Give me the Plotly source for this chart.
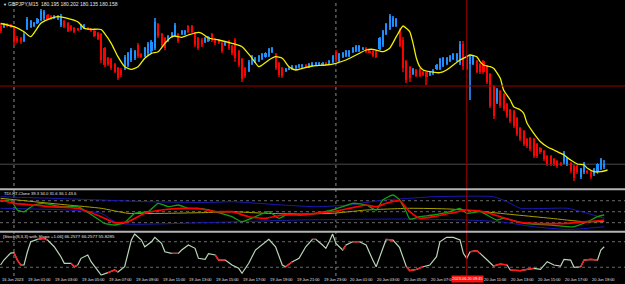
import plotly.graph_objects as go

# ---------------- data ----------------
bar_index = list(range(-4, 177))   # M15 bars, 0 = 19 Jun 00:00

open_ = [181.54,181.53,181.56,181.55,181.53,181.42,181.42,181.39,181.51,181.53,
         181.54,181.57,181.60,181.62,181.65,181.64,181.62,181.61,181.55,181.59,
         181.57,181.54,181.52,181.51,181.51,181.52,181.52,181.51,181.49,181.47,
         181.46,181.32,181.22,181.21,181.16,181.12,181.10,181.11,181.15,181.20,
         181.22,181.35,181.26,181.24,181.27,181.29,181.32,181.56,181.46,181.42,
         181.39,181.43,181.45,181.46,181.46,181.46,181.54,181.54,181.47,181.42,
         181.40,181.38,181.39,181.46,181.41,181.40,181.37,181.35,181.39,181.34,
         181.40,181.29,181.21,181.12,181.09,181.16,181.18,181.19,181.21,181.23,
         181.24,181.28,181.26,181.17,181.12,181.09,181.105,181.11,181.12,181.13,
         181.13,181.15,181.13,181.14,181.15,181.15,181.15,181.175,181.16,181.18,
         181.28,181.19,181.23,181.24,181.24,181.28,181.29,181.29,181.305,181.32,
         181.295,181.29,181.29,181.31,181.35,181.46,181.51,181.54,181.54,181.50,
         181.40,181.19,181.13,181.06,181.10,181.11,181.08,181.08,181.05,181.06,
         181.11,181.11,181.14,181.16,181.19,181.21,181.19,181.17,181.36,181.24,
         181.16,181.16,181.19,181.16,181.19,181.14,181.06,180.94,180.78,180.89,
         180.86,180.76,180.70,180.69,180.62,180.52,180.49,180.41,180.42,180.41,
         180.36,180.32,180.29,180.24,180.24,180.21,180.19,180.175,180.18,180.16,
         180.17,180.14,180.14,180.03,180.08,180.095,180.08,180.06,180.08,180.11,
         180.13]
high = [181.56,181.57,181.57,181.56,181.54,181.44,181.43,181.48,181.63,181.60,
        181.58,181.62,181.71,181.70,181.66,181.65,181.65,181.65,181.66,181.60,
        181.58,181.55,181.53,181.52,181.56,181.56,181.53,181.52,181.50,181.48,
        181.47,181.33,181.23,181.22,181.17,181.13,181.12,181.25,181.28,181.32,
        181.30,181.37,181.27,181.33,181.38,181.40,181.62,181.57,181.47,181.43,
        181.45,181.48,181.57,181.47,181.50,181.50,181.55,181.55,181.48,181.43,
        181.42,181.43,181.44,181.47,181.42,181.41,181.38,181.38,181.40,181.35,
        181.42,181.30,181.22,181.13,181.20,181.25,181.23,181.25,181.27,181.28,
        181.32,181.33,181.27,181.18,181.13,181.12,181.13,181.15,181.15,181.16,
        181.16,181.16,181.17,181.18,181.18,181.18,181.18,181.18,181.20,181.25,
        181.30,181.27,181.28,181.30,181.30,181.33,181.35,181.35,181.33,181.33,
        181.30,181.30,181.30,181.43,181.50,181.57,181.66,181.64,181.62,181.52,
        181.43,181.20,181.14,181.12,181.11,181.12,181.09,181.09,181.09,181.11,
        181.16,181.22,181.23,181.23,181.25,181.27,181.27,181.39,181.39,181.25,
        181.25,181.25,181.20,181.17,181.20,181.15,181.07,180.95,180.92,180.90,
        180.87,180.77,180.71,180.70,180.63,180.53,180.50,180.42,180.43,180.42,
        180.37,180.33,180.30,180.25,180.25,180.22,180.20,180.18,180.29,180.23,
        180.18,180.15,180.15,180.12,180.18,180.10,180.09,180.12,180.17,180.22,
        180.20]
low = [181.47,181.52,181.53,181.52,181.35,181.37,181.36,181.38,181.50,181.52,
       181.53,181.56,181.59,181.60,181.60,181.60,181.61,181.60,181.53,181.52,
       181.48,181.49,181.47,181.49,181.50,181.51,181.50,181.48,181.43,181.40,
       181.17,181.13,181.14,181.10,181.07,181.00,181.03,181.10,181.13,181.18,
       181.20,181.22,181.22,181.23,181.25,181.27,181.30,181.42,181.33,181.30,
       181.38,181.42,181.43,181.37,181.45,181.45,181.47,181.47,181.33,181.30,
       181.33,181.37,181.38,181.38,181.35,181.36,181.27,181.34,181.30,181.25,
       181.18,181.13,180.98,181.02,181.08,181.15,181.17,181.18,181.20,181.22,
       181.23,181.27,181.10,181.03,181.02,181.08,181.10,181.10,181.10,181.12,
       181.12,181.12,181.12,181.13,181.14,181.14,181.14,181.15,181.15,181.17,
       181.18,181.18,181.22,181.23,181.23,181.27,181.28,181.28,181.30,181.27,
       181.27,181.23,181.22,181.30,181.33,181.45,181.50,181.53,181.53,181.33,
       181.08,180.97,180.98,181.05,181.03,181.03,181.04,180.95,181.04,181.05,
       181.10,181.10,181.13,181.15,181.18,181.20,181.18,181.15,181.10,181.10,
       180.80,181.15,181.07,181.06,181.06,180.96,180.72,180.61,180.76,180.72,
       180.69,180.62,180.57,180.52,180.44,180.39,180.34,180.32,180.29,180.22,
       180.22,180.26,180.19,180.14,180.14,180.14,180.12,180.14,180.16,180.14,
       180.07,179.99,180.06,180.01,180.06,180.06,180.01,180.04,180.06,180.10,
       180.11]
close = [181.49,181.56,181.54,181.53,181.38,181.39,181.38,181.46,181.61,181.59,
         181.57,181.61,181.69,181.68,181.61,181.62,181.64,181.64,181.64,181.53,
         181.49,181.50,181.48,181.50,181.55,181.55,181.505,181.49,181.44,181.41,
         181.20,181.15,181.16,181.12,181.08,181.02,181.05,181.23,181.27,181.30,
         181.29,181.24,181.23,181.32,181.36,181.38,181.58,181.44,181.35,181.32,
         181.44,181.47,181.55,181.39,181.49,181.49,181.48,181.48,181.35,181.32,
         181.35,181.42,181.43,181.40,181.37,181.37,181.29,181.37,181.32,181.27,
         181.22,181.15,181.01,181.04,181.18,181.24,181.22,181.24,181.26,181.27,
         181.31,181.32,181.12,181.05,181.04,181.11,181.12,181.14,181.14,181.15,
         181.15,181.13,181.16,181.17,181.17,181.17,181.17,181.155,181.19,181.24,
         181.20,181.26,181.27,181.29,181.29,181.32,181.34,181.34,181.325,181.28,
         181.275,181.24,181.23,181.42,181.49,181.56,181.64,181.62,181.61,181.34,
         181.12,181.00,181.02,181.11,181.04,181.04,181.05,181.03,181.08,181.10,
         181.15,181.21,181.22,181.22,181.24,181.26,181.26,181.36,181.14,181.11,
         181.24,181.24,181.08,181.08,181.08,180.98,180.74,180.64,180.91,180.74,
         180.71,180.64,180.59,180.54,180.46,180.41,180.36,180.34,180.31,180.24,
         180.24,180.28,180.21,180.16,180.16,180.16,180.14,180.155,180.27,180.22,
         180.09,180.02,180.08,180.11,180.17,180.075,180.03,180.11,180.16,180.21,
         180.158]

ma_index = [-4,0,3,5,8,11,13,16,19,21,23,26,27,29,31,33,35,37,39,41,43,45,47,48,50,
            52,55,56,58,61,65,68,71,73,74,76,78,80,82,84,86,89,93,96,99,102,105,107,
            110,112,114,116,117,118,119,120,121,122,124,127,129,131,133,135,136,138,
            139,140,142,143,145,146,148,149,151,152,153,155,157,159,161,164,166,168,
            170,171,173,175,177]
ma_value = [181.565,181.533,181.483,181.433,181.567,181.617,181.633,181.617,181.583,
            181.517,181.507,181.505,181.467,181.367,181.233,181.133,181.107,181.133,
            181.217,181.267,181.283,181.367,181.433,181.44,181.427,181.45,181.477,
            181.467,181.42,181.40,181.367,181.333,181.217,181.133,181.15,181.20,
            181.233,181.217,181.133,181.10,181.117,181.14,181.15,181.167,181.20,
            181.25,181.30,181.307,181.283,181.317,181.433,181.54,181.517,181.483,
            181.367,181.217,181.133,181.10,181.083,181.073,181.10,181.15,181.20,
            181.233,181.25,181.233,181.183,181.15,181.133,181.117,181.017,180.90,
            180.80,180.733,180.70,180.667,180.567,180.467,180.383,180.333,180.30,
            180.25,180.20,180.16,180.15,180.117,180.083,180.083,180.10]

bid_price = 180.158
crosshair_price = 180.94
crosshair_bar = 135
crosshair_label = "2023.06.20 09:45"
day_separators = [0, 96]

# TDI window
tdi_upper_index = [-4,11,26,40,58,65,80,90,100,110,118,125,143,147,151,165,171,176]
tdi_upper = [74.6,72.0,69.2,66.4,65.1,66.4,61.0,58.2,61.0,69.2,72.0,74.6,74.6,66.4,55.6,55.6,47.4,39.2]
tdi_lower_index = [-4,16,26,31,58,85,115,135,145,155,165,171,176]
tdi_lower = [55.6,52.8,47.4,31.0,32.3,36.4,38.0,36.4,33.6,25.4,20.8,22.8,25.4]
tdi_mid_index = [-4,6,16,26,34,46,58,65,75,85,95,100,105,118,130,140,150,160,170,176]
tdi_mid = [72.0,66.4,61.0,55.6,47.4,47.4,48.7,50,47.4,46.2,47.4,50,52.8,55.6,54.4,50,44.6,39.2,33.6,33.6]
tdi_price_index = [-4,-1,1,3,6,9,14,19,24,27,30,33,36,40,43,46,49,52,55,58,65,68,72,76,79,82,
                   85,90,95,98,101,105,108,110,113,115,117,118,121,125,130,133,135,139,144,
                   146,152,160,167,171,174,176]
tdi_price = [66.4,69.2,52.8,50,61.0,63.8,58.2,58.2,41.8,31.0,28.2,32.0,47.4,50,63.8,58.2,61.0,
             55.6,55.6,52.8,41.8,33.6,41.8,50,39.2,47.4,44.6,47.4,52.8,58.2,63.8,61.0,52.8,
             69.2,77.4,69.2,49.5,38.0,41.8,44.6,50,55.6,47.4,50,36.4,39.2,31.0,28.2,25.4,
             33.6,41.8,44.6]
tdi_signal_index = [-4,0,6,11,19,26,30,34,39,44,50,56,60,65,70,75,80,85,90,95,100,105,108,111,
                    115,118,121,125,130,135,140,145,150,155,165,171,176]
tdi_signal = [69.2,63.8,61.0,58.2,55.6,41.8,32.0,33.6,47.4,52.8,55.6,54.4,50,50,41.8,39.2,44.6,
              44.6,47.4,50,55.6,61.0,58.2,63.8,67.9,50,39.2,41.8,47.4,52.8,50,41.8,33.6,31.0,
              31.0,33.6,36.4]
tdi_levels = [68, 50, 32]

# Stochastic window
stoch_index = [-4,-3,-1,0,1,2,3,4,5,7,9,10,12,14,15,17,18,19,20,22,23,25,26,28,30,31,33,34,35,
               36,38,39,41,42,44,45,47,49,50,52,54,55,57,58,60,61,63,65,67,68,70,72,74,76,78,
               80,81,83,85,87,89,90,92,93,94,95,96,98,99,101,103,105,107,108,110,111,113,115,
               117,118,120,122,124,126,127,129,131,133,134,135,136,138,139,141,143,145,147,
               148,151,153,155,157,159,161,163,164,166,167,169,170,172,174,175,176]
stoch_main = [25.3,37.0,53.4,54.1,37.0,25.3,25.3,56.5,79.9,85.6,87.9,83.9,68.2,44.8,29.3,29.3,
              21.3,25.3,41.0,48.8,33.1,13.6,1.9,7.3,13.6,8.9,21.3,52.7,83.9,98.0,83.9,68.2,
              79.9,90.2,76.2,56.5,52.7,52.7,60.5,72.2,64.5,41.0,38.7,52.0,48.8,37.0,37.0,25.3,
              17.6,5.9,29.3,60.5,72.2,85.6,68.2,25.3,21.3,33.1,41.0,68.2,85.6,85.6,72.2,64.5,
              79.9,98.0,76.2,60.5,72.2,79.9,79.9,72.2,37.0,21.3,64.5,85.6,83.9,66.0,21.3,12.0,
              15.2,21.3,25.3,44.8,79.9,90.2,90.2,83.9,52.7,41.0,56.5,58.9,52.7,37.0,23.0,27.7,
              25.3,13.6,12.0,15.2,17.6,15.2,33.1,25.3,23.0,38.7,37.0,19.9,21.3,37.0,38.7,37.0,
              60.5,68.2]
stoch_flat_ranges = [(0,2),(7,10),(17,19),(28,31),(46,49),(59,63),(81,83),(89,90),(97,99),
                     (101,103),(111,113),(117,122),(136,139),(143,147),(148,155),(169,174)]
stoch_levels = [80, 20]

tick_index = [-4,4,12,20,28,36,44,52,60,68,76,84,92,100,108,116,124,140,148,156,164,172]
tick_text = ["16 Jun 2023","19 Jun 01:00","19 Jun 03:00","19 Jun 05:00","19 Jun 07:00",
             "19 Jun 09:00","19 Jun 11:00","19 Jun 13:00","19 Jun 15:00","19 Jun 17:00",
             "19 Jun 19:00","19 Jun 21:00","19 Jun 23:00","20 Jun 01:00","20 Jun 03:00",
             "20 Jun 05:00","20 Jun 07:00","20 Jun 11:00","20 Jun 13:00","20 Jun 15:00",
             "20 Jun 17:00","20 Jun 19:00"]

title_text = "GBPJPY,M15  180.195 180.202 180.135 180.158"
tdi_text = "TDI-RT-Clone 39.3 34.0 31.6 36.1 43.6"
stoch_text = "[Stoch(8,3,3) with Slope +1.06] 66.2577 66.2577 55.8285"

# ---------------- figure ----------------
W, H = 625, 284
def py(px):
    return (H - px) / H

FONT = "Liberation Sans"
fig = go.Figure()

bull = [c >= o for o, c in zip(open_, close)]
def pick(seq, flag):
    return [v for v, f in zip(seq, bull) if f == flag]

for flag, body_col, wick_col in [(True, "#1e8fff", "#1f74d0"), (False, "#ff0000", "#b80000")]:
    xs = pick(bar_index, flag)
    o, h, l, c = pick(open_, flag), pick(high, flag), pick(low, flag), pick(close, flag)
    fig.add_bar(x=xs, y=[a - b for a, b in zip(h, l)], base=l, width=0.3,
                marker=dict(color=wick_col, line_width=0), yaxis="y", hoverinfo="skip")
    fig.add_bar(x=xs, y=[max(abs(b - a), 0.012) for a, b in zip(o, c)],
                base=[min(a, b) for a, b in zip(o, c)], width=0.62,
                marker=dict(color=body_col, line_width=0), yaxis="y", hoverinfo="skip")

fig.add_scatter(x=ma_index, y=ma_value, mode="lines", yaxis="y",
                line=dict(color="#f0f000", width=1.3, shape="spline", smoothing=0.6))

# TDI
for xs, ys, col, wd in [(tdi_upper_index, tdi_upper, "#1a1ab4", 1.0),
                        (tdi_lower_index, tdi_lower, "#1a1ab4", 1.0),
                        (tdi_mid_index, tdi_mid, "#aaa200", 1.0),
                        (tdi_price_index, tdi_price, "#12a012", 1.3),
                        (tdi_signal_index, tdi_signal, "#ff0000", 1.7)]:
    fig.add_scatter(x=xs, y=ys, mode="lines", yaxis="y2",
                    line=dict(color=col, width=wd, shape="spline", smoothing=0.5))

# Stochastic
fig.add_scatter(x=stoch_index, y=stoch_main, mode="lines", yaxis="y3",
                line=dict(color="#b9d6b9", width=1.2))
for a, b in stoch_flat_ranges:
    seg = [(x, v) for x, v in zip(stoch_index, stoch_main) if a <= x <= b]
    if len(seg) >= 2:
        fig.add_scatter(x=[s[0] for s in seg], y=[s[1] for s in seg], mode="lines",
                        yaxis="y3", line=dict(color="#ff1a1a", width=1.4))

shapes = []
for lv in tdi_levels:
    shapes.append(dict(type="line", xref="paper", x0=0, x1=1, yref="y2", y0=lv, y1=lv,
                       line=dict(color="#6a6a6a", width=1, dash="dot"), layer="below"))
for lv in stoch_levels:
    shapes.append(dict(type="line", xref="paper", x0=0, x1=1, yref="y3", y0=lv, y1=lv,
                       line=dict(color="#6a6a6a", width=1, dash="dot"), layer="below"))
shapes.append(dict(type="line", xref="paper", x0=0, x1=1, yref="y", y0=bid_price, y1=bid_price,
                   line=dict(color="#4a4a4a", width=1), layer="below"))
for d in day_separators:
    shapes.append(dict(type="line", xref="x", x0=d, x1=d, yref="paper", y0=py(276), y1=1,
                       line=dict(color="#8a8a8a", width=1, dash="dot"), layer="below"))
shapes.append(dict(type="line", xref="paper", x0=0, x1=1, yref="y", y0=crosshair_price,
                   y1=crosshair_price, line=dict(color="#9a0000", width=1)))
shapes.append(dict(type="line", xref="x", x0=crosshair_bar, x1=crosshair_bar, yref="paper",
                   y0=py(276), y1=1, line=dict(color="#9a0000", width=1)))
for ypx in [189.2, 231.7]:
    shapes.append(dict(type="line", xref="paper", x0=0, x1=1, yref="paper", y0=py(ypx), y1=py(ypx),
                       line=dict(color="#b4b4b4", width=2)))

ann = []
txtcol = "#e6e6e6"
ann.append(dict(text="▼", x=0.002, y=py(4.2), xref="paper", yref="paper", xanchor="left",
                yanchor="middle", showarrow=False, font=dict(family=FONT, size=4, color=txtcol)))
ann.append(dict(text=title_text, x=7 / W, y=py(4.2), xref="paper", yref="paper", xanchor="left",
                yanchor="middle", showarrow=False, borderpad=0,
                font=dict(family=FONT, size=5, color=txtcol)))
ann.append(dict(text=tdi_text, x=3 / W, y=py(193.6), xref="paper", yref="paper", xanchor="left",
                yanchor="middle", showarrow=False, borderpad=0,
                font=dict(family=FONT, size=4.2, color=txtcol)))
ann.append(dict(text=stoch_text, x=2 / W, y=py(236.3), xref="paper", yref="paper", xanchor="left",
                yanchor="middle", showarrow=False, borderpad=0,
                font=dict(family=FONT, size=4.4, color=txtcol)))
for t, s in zip(tick_index, tick_text):
    ann.append(dict(text=s, x=t, y=py(279.2), xref="x", yref="paper", xanchor="left",
                    yanchor="middle", showarrow=False, borderpad=0,
                    font=dict(family=FONT, size=3.9, color=txtcol)))
ann.append(dict(text=crosshair_label, x=crosshair_bar, y=py(279.2), xref="x", yref="paper",
                xanchor="center", yanchor="middle", showarrow=False, borderpad=0.3, xshift=1,
                bgcolor="#ff1010", font=dict(family=FONT, size=3.9, color="#ffffff")))

fig.update_layout(
    width=W, height=H, autosize=False, margin=dict(l=0, r=0, t=0, b=0, pad=0),
    paper_bgcolor="#000000", plot_bgcolor="#000000", showlegend=False,
    barmode="overlay", bargap=0,
    xaxis=dict(domain=[0, 1], range=[-4.17, 182.2], visible=False, anchor="y3"),
    yaxis=dict(domain=[py(187), 1], range=[179.93, 181.80], visible=False, anchor="x"),
    yaxis2=dict(domain=[py(230), py(190)], range=[20, 85.6], visible=False, anchor="x"),
    yaxis3=dict(domain=[py(275.8), py(233.2)], range=[0, 100], visible=False, anchor="x"),
    shapes=shapes, annotations=ann,
)

fig.write_html("out.html", config={"displayModeBar": False},
               post_script="document.body.style.margin='0';")
